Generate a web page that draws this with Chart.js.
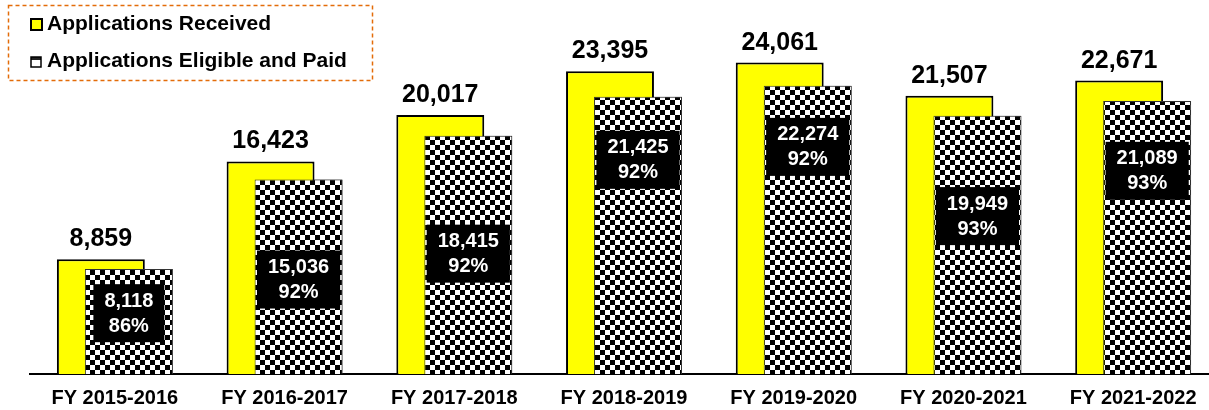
<!DOCTYPE html>
<html><head><meta charset="utf-8">
<script src="https://cdn.jsdelivr.net/npm/chart.js@4.4.1/dist/chart.umd.min.js"></script>
<style>
html,body{margin:0;padding:0;overflow:hidden;background:#fff;width:1209px;height:410px}
#wrap{position:relative;width:1219px;height:410px}
</style></head>
<body><div id="wrap"><canvas id="c" width="1219" height="410"></canvas></div>
<script>
const categories = ['FY 2015-2016','FY 2016-2017','FY 2017-2018','FY 2018-2019','FY 2019-2020','FY 2020-2021','FY 2021-2022'];
const received = [8859, 16423, 20017, 23395, 24061, 21507, 22671];
const eligiblePaid = [8118, 15036, 18415, 21425, 22274, 19949, 21089];
const paidPercent = ['86%', '92%', '92%', '92%', '92%', '93%', '93%'];
const seriesNames = ['Applications Received', 'Applications Eligible and Paid'];

const FONT = '"Liberation Sans", Arial, Helvetica, sans-serif';
Chart.defaults.font.family = FONT;

// checkerboard pattern
const pc = document.createElement('canvas');
pc.width = 10; pc.height = 10;
const pctx = pc.getContext('2d');
pctx.fillStyle = '#fff'; pctx.fillRect(0, 0, 10, 10);
pctx.fillStyle = '#000'; pctx.fillRect(0, 0, 5, 5); pctx.fillRect(5, 5, 5, 5);
const checker = pctx.createPattern(pc, 'repeat');

const labelPlugin = {
  id: 'barLabels',
  afterDatasetsDraw(chart, args, opts) {
    const ctx = chart.ctx;
    // draw the checkered series on top of the yellow one
    chart.getDatasetMeta(1).controller.draw();
    const yScale = chart.scales.y;
    ctx.save();
    // values above yellow bars
    ctx.font = 'bold 25px ' + FONT;
    ctx.fillStyle = '#000';
    ctx.textAlign = 'center';
    ctx.textBaseline = 'alphabetic';
    chart.getDatasetMeta(0).data.forEach((el, i) => {
      ctx.fillText(received[i].toLocaleString('en-US'), el.x, el.y - 13);
    });
    // boxed labels inside checkered bars
    ctx.font = 'bold 20px ' + FONT;
    chart.getDatasetMeta(1).data.forEach((el, i) => {
      const cy = yScale.getPixelForValue(opts.anchors[i]);
      const l1 = eligiblePaid[i].toLocaleString('en-US');
      const l2 = paidPercent[i];
      const tw = Math.max(ctx.measureText(l1).width, ctx.measureText(l2).width);
      const w = Math.min(tw + 22, el.width - 4);
      ctx.fillStyle = '#000';
      ctx.fillRect(el.x - w / 2, cy - 29, w, 58);
      ctx.fillStyle = '#fff';
      ctx.textBaseline = 'middle';
      ctx.fillText(l1, el.x, cy - 12);
      ctx.fillText(l2, el.x, cy + 13);
    });
    ctx.restore();
  },
  afterDraw(chart) {
    const ctx = chart.ctx;
    ctx.save();
    ctx.setLineDash([4, 3]);
    ctx.strokeStyle = '#E36C09';
    ctx.lineWidth = 1.5;
    ctx.strokeRect(8.5, 5.5, 364, 75);
    ctx.setLineDash([]);
    // marker 1
    ctx.fillStyle = '#FFFF00';
    ctx.fillRect(31, 19, 11, 11);
    ctx.strokeStyle = '#000'; ctx.lineWidth = 2;
    ctx.strokeRect(31, 19, 11, 11);
    // marker 2
    ctx.fillStyle = '#fff';
    ctx.fillRect(31, 57, 10, 10);
    ctx.fillStyle = '#222';
    ctx.fillRect(31, 57, 10, 3);
    ctx.lineWidth = 1.5;
    ctx.strokeRect(31, 57, 10, 10);
    ctx.font = 'bold 21px ' + FONT;
    ctx.fillStyle = '#000';
    ctx.textAlign = 'left';
    ctx.textBaseline = 'alphabetic';
    ctx.fillText(chart.data.datasets[0].label, 47, 30);
    ctx.fillText(chart.data.datasets[1].label, 47, 67);
    ctx.restore();
  }
};

new Chart(document.getElementById('c'), {
  type: 'bar',
  data: {
    labels: categories,
    datasets: [
      { label: seriesNames[0], data: received, backgroundColor: '#FFFF00', borderColor: '#000', borderWidth: 2,
        categoryPercentage: 0.33, barPercentage: 3.14 },
      { label: seriesNames[1], data: eligiblePaid, backgroundColor: checker, borderColor: '#333', borderWidth: 1,
        categoryPercentage: 0.33, barPercentage: 3.14 }
    ]
  },
  options: {
    responsive: false,
    animation: false,
    devicePixelRatio: 1,
    layout: { padding: { left: 30, right: 1, top: 0, bottom: -12 } },
    plugins: {
      legend: { display: false },
      tooltip: { enabled: false },
      barLabels: { anchors: [4700, 7300, 9300, 16550, 17550, 12200, 15700] }
    },
    scales: {
      x: {
        offset: true,
        grid: { display: false, drawTicks: false, tickLength: 0 },
        border: { display: true, color: '#000', width: 2 },
        ticks: { color: '#000', padding: 12, maxRotation: 0, autoSkip: false,
                 font: { size: 20, weight: 'bold', lineHeight: 1.2 } }
      },
      y: { display: false, min: 0, max: 28900 }
    }
  },
  plugins: [labelPlugin]
});
</script>
</body></html>
